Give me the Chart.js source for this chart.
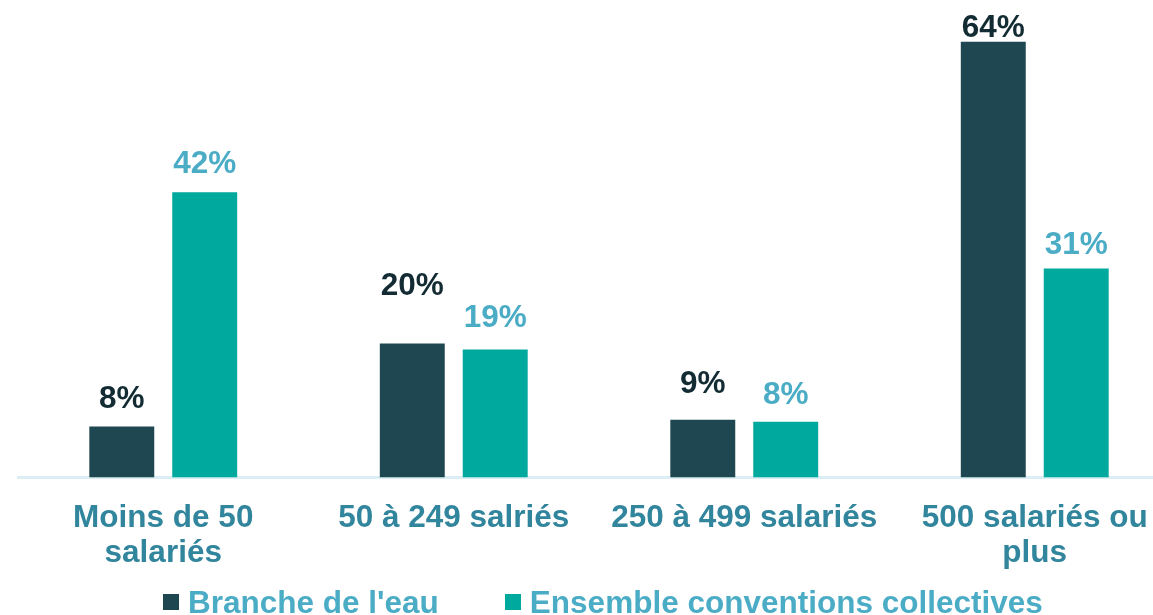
<!DOCTYPE html>
<html lang="fr">
<head>
<meta charset="utf-8">
<script src="https://cdn.jsdelivr.net/npm/chart.js@4"></script>
<style>
    html, body { margin: 0; padding: 0; background: #fff; overflow: hidden; }
    #wrap { position: relative; width: 1209px; height: 615px; }
    #chart { display: block; }
    #legend {
        position: absolute; left: 163px; top: 584px;
        display: flex; gap: 66px;
        font: bold 31.5px 'Liberation Sans', Arial, sans-serif;
        line-height: 36px; color: #4BACC6; white-space: nowrap;
    }
    #legend span { display: flex; align-items: center; }
    #legend i { display: inline-block; width: 16px; height: 16px; margin-right: 9px; }
</style>
</head>
<body>
<div id="wrap">
    <canvas id="chart" width="1209" height="615"></canvas>
    <div id="legend"></div>
</div>
<script>
// Répartition par taille d'entreprise
const categories = [
    ['Moins de 50', 'salariés'],
    '50 à 249 salriés',
    '250 à 499 salariés',
    ['500 salariés ou', 'plus'],
];
const seriesNames = ["Branche de l'eau", 'Ensemble conventions collectives'];
const brancheEau = [7.5, 19.7, 8.5, 64.0];
const ensembleConventions = [41.9, 18.8, 8.2, 30.7];

// label offset above each bar (px), as placed in the original
const labelGap = [[18, 48, 27, 5], [19, 23, 18, 15]];

const FONT = "'Liberation Sans', Arial, sans-serif";
const barColors = ['#1F4752', '#00A99D'];
const labelColors = ['#132B33', '#4BACC6'];

const valueLabels = {
    id: 'valueLabels',
    afterDatasetsDraw(chart) {
        const ctx = chart.ctx;
        ctx.save();
        ctx.font = `bold 31.5px ${FONT}`;
        ctx.textAlign = 'center';
        ctx.textBaseline = 'alphabetic';
        chart.data.datasets.forEach((ds, i) => {
            ctx.fillStyle = labelColors[i];
            chart.getDatasetMeta(i).data.forEach((bar, j) => {
                ctx.fillText(Math.round(ds.data[j]) + '%', bar.x, bar.y - labelGap[i][j]);
            });
        });
        ctx.restore();
    },
};

new Chart(document.getElementById('chart'), {
    type: 'bar',
    data: {
        labels: categories,
        datasets: [
            { label: seriesNames[0], data: brancheEau, backgroundColor: barColors[0] },
            { label: seriesNames[1], data: ensembleConventions, backgroundColor: barColors[1] },
        ],
    },
    options: {
        responsive: false,
        animation: false,
        devicePixelRatio: 1,
        categoryPercentage: 0.571,
        barPercentage: 0.783,
        layout: { padding: { left: 18, right: 29, top: 1, bottom: 28.5 } },
        plugins: {
            legend: { display: false },
            tooltip: { enabled: false },
        },
        scales: {
            x: {
                grid: { display: false },
                border: { display: true, color: '#DAEEF3', width: 3 },
                ticks: {
                    color: '#31859C',
                    padding: 15.5,
                    maxRotation: 0,
                    autoSkip: false,
                    font: { family: FONT, size: 31.5, weight: 'bold', lineHeight: 35 / 31.5 },
                },
            },
            y: {
                display: false,
                min: 0,
                max: 70,
            },
        },
    },
    plugins: [valueLabels],
});

document.getElementById('legend').innerHTML = seriesNames
    .map((name, i) => `<span><i style="background:${barColors[i]}"></i>${name}</span>`)
    .join('');
</script>
</body>
</html>
